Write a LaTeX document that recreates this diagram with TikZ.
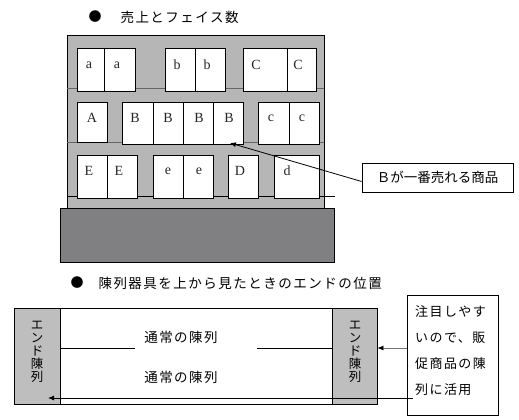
\documentclass[tikz,border=0pt]{standalone}
\usepackage{fontspec}
\usepackage{tikz}
\usetikzlibrary{arrows.meta}
\setmainfont{Liberation Serif}
\newfontfamily\jp{Noto Sans CJK JP}
\newfontfamily\jpw[LetterSpace=11]{Noto Sans CJK JP}
\definecolor{shelfgray}{RGB}{182,182,182}
\definecolor{basegray}{RGB}{128,128,131}
\definecolor{endgray}{RGB}{190,190,190}

\begin{document}
\begin{tikzpicture}[x=1pt,y=-1pt,
		face/.style={draw,fill=white,line width=0.8pt},
		lbl/.style={font=\fontsize{14}{14}\selectfont,text=black!85},
		title/.style={anchor=west,font=\jpw\fontsize{13.5}{13.5}\selectfont},
		dot/.style={font=\jp\fontsize{13}{13}\selectfont},
		vtext/.style={align=center,font=\jp\fontsize{12.5}{13}\selectfont},
		endbox/.style={draw,fill=endgray,line width=0.8pt,minimum height=96pt,inner sep=0pt},
		pointer/.style={-{Latex[length=6pt,width=5pt,color=black]},line width=0.8pt}]
	\useasboundingbox (0,0) rectangle (519,420);
	% titles
	\node[dot] (dot1) at (95,17) {●};
	\node[title] (head1) at (117,17) {売上とフェイス数};
	\node[dot] (dot2) at (77,283) {●};
	\node[title] (head2) at (95,283) {陳列器具を上から見たときのエンドの位置};
	% shelf and base
	\draw[fill=shelfgray,line width=0.8pt] (67,35) rectangle (324,208);
	\draw[black!60,line width=1pt] (67,88)--(324,88);
	\draw[black!60,line width=1pt] (67,142)--(324,142);
	\draw[line width=0.8pt] (67,196)--(335,196);
	\draw[fill=basegray,line width=0.8pt] (60,208) rectangle (334,262);
	% top row
	\draw[face] (77,48) rectangle (104,91);
	\draw[face] (104,48) rectangle (135,91);
	\draw[face] (165,48) rectangle (195,91);
	\draw[face] (195,48) rectangle (225,91);
	\draw[face] (243,48) rectangle (287,91);
	\draw[face] (287,48) rectangle (316,91);
	\node[lbl] at (89,65) {a};
	\node[lbl] at (117,65) {a};
	\node[lbl] at (177,65) {b};
	\node[lbl] at (207,65) {b};
	\node[lbl] at (256,65) {C};
	\node[lbl] at (298,65) {C};
	% middle row
	\draw[face] (77,102) rectangle (107,142);
	\draw[face] (122,102) rectangle (153,144);
	\draw[face] (153,102) rectangle (183,144);
	\draw[face] (183,102) rectangle (213,144);
	\draw[face] (213,102) rectangle (243,144);
	\draw[face] (258,102) rectangle (289,144);
	\draw[face] (289,102) rectangle (319,144);
	\node[lbl] at (92,118) {A};
	\node[lbl] at (135,118) {B};
	\node[lbl] at (168,118) {B};
	\node[lbl] at (199,118) {B};
	\node[lbl] at (229,118) {B};
	\node[lbl] at (271,118) {c};
	\node[lbl] at (302,118) {c};
	% bottom row
	\draw[face] (77,155) rectangle (107,198);
	\draw[face] (107,155) rectangle (137,198);
	\draw[face] (153,155) rectangle (183,198);
	\draw[face] (183,155) rectangle (213,198);
	\draw[face] (228,155) rectangle (258,198);
	\draw[face] (274,155) rectangle (319,198);
	\node[lbl] at (89,171) {E};
	\node[lbl] at (119,171) {E};
	\node[lbl] at (168,171) {e};
	\node[lbl] at (199,171) {e};
	\node[lbl] at (240,171) {D};
	\node[lbl] at (287,171) {d};
	% callout for B
	\node[draw,line width=0.8pt,minimum width=151pt,minimum height=29pt,font=\jp\fontsize{13.5}{13.5}\selectfont] (best) at (437.5,177.5) {Ｂが一番売れる商品};
	\coordinate (bTip) at (230,143);
	\draw[pointer] ([yshift=-4pt]best.west) -- (bTip);
	% plan view
	\draw[line width=0.8pt] (14,308) rectangle (377,404);
	\node[endbox,minimum width=46pt] (lEnd) at (37,356) {};
	\node[endbox,minimum width=45pt] (rEnd) at (354.5,356) {};
	\node[vtext] at (37,351.5) {エ\\ン\\ド\\陳\\列};
	\node[vtext] at (355,351.5) {エ\\ン\\ド\\陳\\列};
	\draw[line width=0.8pt] (lEnd.east |- 0,348) -- (135,348);
	\draw[line width=0.8pt] (257,348) -- (rEnd.west |- 0,348);
	\node[title,anchor=center] (row1) at (181,337) {通常の陳列};
	\node[title,anchor=center] (row2) at (181,377) {通常の陳列};
	% note box
	\node[draw,line width=0.8pt,minimum width=91pt,minimum height=120pt] (note) at (452.5,355) {};
	\node[anchor=north west,align=left,font=\jpw\fontsize{13}{26}\selectfont,inner sep=0pt] (noteText) at (415,305) {注目しやす\\いので、販\\促商品の陳\\列に活用};
	\draw[pointer,draw=black!55] ([yshift=7pt]note.west) -- ([yshift=8pt]rEnd.east);
	\coordinate (nStart) at (413,398);
	\coordinate (lTip) at (48,398);
	\draw[pointer] (nStart) -- (lTip);
\end{tikzpicture}
\end{document}
